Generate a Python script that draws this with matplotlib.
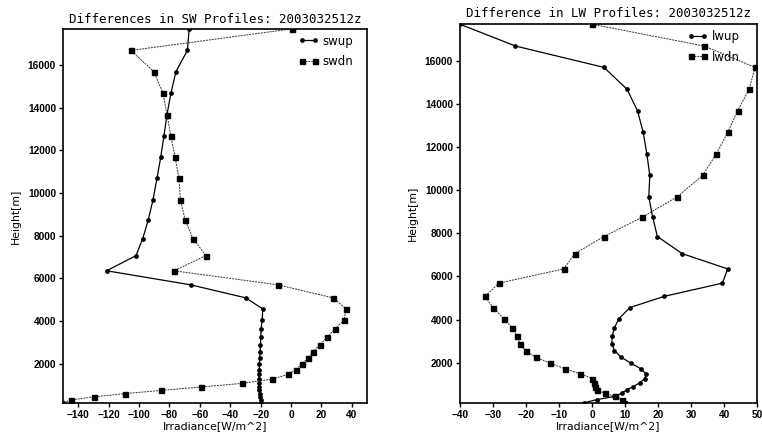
import numpy as np
import matplotlib
matplotlib.use("Agg")
from matplotlib import pyplot as plt

# model level heights [m], top to bottom
height = [17690, 16680, 15690, 14680, 13670, 12680, 11690, 10680, 9680, 8740,
          7850, 7060, 6350, 5690, 5080, 4560, 4040, 3620, 3240, 2890,
          2560, 2260, 1980, 1720, 1490, 1270, 1070, 900, 740, 590,
          440, 290, 150]

swup = [-67, -68.2, -75.7, -79, -81.6, -83.6, -85.7, -88.2, -90.8, -93.9,
        -97.6, -102, -121.3, -66, -29.8, -18.6, -19, -19.7, -19.9, -20.1,
        -20.4, -20.6, -20.8, -20.9, -21.1, -21.1, -21.1, -20.9, -20.8, -20.5,
        -20.2, -19.9, -19.6]
swdn = [0.4, -105.3, -90.3, -84.2, -81.6, -79.1, -76.3, -73.7, -72.8, -69.7,
        -64.5, -55.9, -77, -8.6, 27.6, 36.2, 34.9, 28.9, 23.7, 19.1,
        14.5, 11.2, 7.2, 3.3, -2, -12.5, -32.2, -59.2, -85.5, -109.2,
        -129.6, -144.7, -151]

lwup = [-40, -23.2, 3.6, 10.6, 13.8, 15.5, 16.6, 17.5, 17.2, 18.4,
        19.8, 27.3, 41.1, 39.5, 21.9, 11.5, 8.1, 6.8, 6.1, 6.0,
        6.8, 8.8, 11.8, 14.8, 16.4, 16.0, 14.5, 12.5, 10.5, 9.0,
        6.8, 1.4, -2.4]
lwdn = [0, 34.0, 49.4, 47.6, 44.1, 41.1, 37.7, 33.5, 25.7, 15.1,
        3.6, -5.2, -8.6, -28.2, -32.4, -30, -26.7, -24.2, -22.7, -21.9,
        -20.1, -17.1, -12.7, -8.2, -3.6, 0, 0.6, 1.0, 1.4, 3.9,
        7.0, 9.2, 9.8]

sw_ticks = np.arange(-140, 41, 20)
lw_ticks = np.arange(-40, 51, 10)
y_ticks = np.arange(2000, 16001, 2000)

tick_font = {'family': 'Liberation Sans', 'weight': 'bold', 'size': 7.3}
title_font = {'family': 'DejaVu Sans Mono', 'size': 9}
label_font = {'family': 'DejaVu Sans', 'size': 7.8}

fig = plt.figure(figsize=(7.62, 4.36), dpi=100)
ax1 = fig.add_axes([0.0827, 0.0757, 0.399, 0.858])
ax2 = fig.add_axes([0.6037, 0.0764, 0.3898, 0.868])

dash = (0, (2, 1))

def panel(ax, up, dn, names, xlim, xticks, title, leg_x, tpad):
    ax.plot(up, height, color='black', lw=0.9, marker='o', ms=2.4, label=names[0])
    ax.plot(dn, height, color='#333333', lw=0.7, ls=dash, marker='s', ms=3.6,
            mfc='black', mec='black', label=names[1])
    ax.set_xlim(xlim)
    ax.set_ylim(min(height), max(height))
    ax.set_xticks(xticks)
    ax.set_yticks(y_ticks)
    for lab in ax.get_xticklabels() + ax.get_yticklabels():
        lab.set_fontproperties(tick_font)
    ax.tick_params(direction='out', length=3, width=1, pad=2)
    for s in ax.spines.values():
        s.set_linewidth(1.2)
    ax.set_xlabel('Irradiance[W/m^2]', fontdict=label_font, labelpad=1)
    ax.set_ylabel('Height[m]', fontdict=label_font, labelpad=5)
    ax.set_title(title, fontdict=title_font, pad=tpad)
    ax.legend(loc='upper left', bbox_to_anchor=(leg_x, 0.985), frameon=False,
              numpoints=2, handlelength=1.7, handletextpad=0.3,
              labelspacing=0.65, borderpad=0, borderaxespad=0,
              prop={'family': 'DejaVu Sans', 'size': 8.5})

panel(ax1, swup, swdn, ['swup', 'swdn'], (-150, 50), sw_ticks,
      'Differences in SW Profiles: 2003032512z', 0.776, 4)
panel(ax2, lwup, lwdn, ['lwup', 'lwdn'], (-40, 50), lw_ticks,
      'Difference in LW Profiles: 2003032512z', 0.767, 5)

plt.savefig('out.png', dpi=100)
